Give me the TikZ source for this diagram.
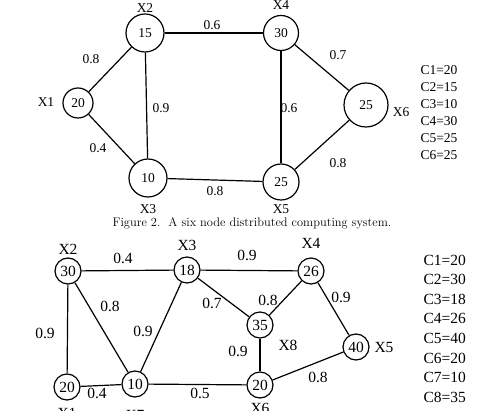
\documentclass[tikz,border=0pt]{standalone}
\usepackage{fontspec}
\newfontfamily\timesfont{Liberation Serif}
\usepackage{tikz}

\begin{document}
\begin{tikzpicture}[x=1pt,y=-1pt,line width=1.2pt,
    proc/.style={circle,draw,inner sep=0pt},
    topfont/.style={font=\timesfont\fontsize{13.5}{14}\selectfont},
    botfont/.style={font=\timesfont\fontsize{15.5}{16}\selectfont},
    bnode/.style={proc,minimum size=26pt,botfont}]
  \useasboundingbox (0,0) rectangle (477,411);

  % first system: six nodes
  \node[proc,topfont,minimum size=30pt] (a1) at (78,103) {20};
  \node[proc,topfont,minimum size=38pt] (a2) at (145,33) {15};
  \node[proc,topfont,minimum size=38pt] (a3) at (148,178) {10};
  \node[proc,topfont,minimum size=35pt] (a4) at (281,33) {30};
  \node[proc,topfont,minimum size=36pt] (a5) at (281,182) {25};
  \node[proc,topfont,minimum size=44pt] (a6) at (366,105) {25};

  \node[topfont] (la1) at (46,102) {X1};
  \node[topfont] (la2) at (145,8) {X2};
  \node[topfont] (la3) at (148,209) {X3};
  \node[topfont] (la4) at (281,5) {X4};
  \node[topfont] (la5) at (281,209) {X5};
  \node[topfont] (la6) at (401,112) {X6};

  \path (a1) edge (a2)
        (a1) edge (a3)
        (a2) edge (a3)
        (a2) edge (a4)
        (a3) edge (a5)
        (a4) edge (a5)
        (a4) edge (a6)
        (a5) edge (a6);

  \node[topfont] (wa12) at (91,59) {0.8};
  \node[topfont] (wa13) at (98,148) {0.4};
  \node[topfont] (wa23) at (161,108) {0.9};
  \node[topfont] (wa24) at (212,25) {0.6};
  \node[topfont] (wa35) at (215,191) {0.8};
  \node[topfont] (wa45) at (289,108) {0.6};
  \node[topfont] (wa46) at (338,55) {0.7};
  \node[topfont] (wa56) at (338,163) {0.8};

  \foreach \i/\c in {1/20,2/15,3/10,4/30,5/25,6/25}
    \node[topfont,anchor=west,inner sep=0pt] (ca\i) at (420,53+17*\i) {C\i=\c};

  \node[font=\fontsize{12.4}{14}\selectfont] (cap) at (252,223)
    {Figure 2.\ \ A six node distributed computing system.};

  % second system: eight nodes
  \node[bnode] (b1) at (67,387) {20};
  \node[bnode] (b2) at (68,271) {30};
  \node[bnode] (b3) at (187,270) {18};
  \node[bnode] (b4) at (311,271) {26};
  \node[bnode] (b5) at (356,347) {40};
  \node[bnode] (b6) at (260,385) {20};
  \node[bnode] (b7) at (135,384) {10};
  \node[bnode] (b8) at (260,325) {35};

  \node[botfont] (lb1) at (67,413) {X1};
  \node[botfont] (lb2) at (68,249) {X2};
  \node[botfont] (lb3) at (187,245) {X3};
  \node[botfont] (lb4) at (311,243) {X4};
  \node[botfont] (lb5) at (384,348) {X5};
  \node[botfont] (lb6) at (260,408) {X6};
  \node[botfont] (lb7) at (135,415) {X7};
  \node[botfont] (lb8) at (288,345) {X8};

  \path (b2) edge (b3)
        (b2) edge (b1)
        (b2) edge (b7)
        (b1) edge (b7)
        (b7) edge (b3)
        (b7) edge (b6)
        (b3) edge (b4)
        (b3) edge (b8)
        (b8) edge (b4)
        (b8) edge (b6)
        (b4) edge (b5)
        (b6) edge (b5);

  \node[botfont] (wb23) at (123,258) {0.4};
  \node[botfont] (wb27) at (110,306) {0.8};
  \node[botfont] (wb21) at (45,333) {0.9};
  \node[botfont] (wb73) at (143,331) {0.9};
  \node[botfont] (wb17) at (97,393) {0.4};
  \node[botfont] (wb76) at (200,393) {0.5};
  \node[botfont] (wb34) at (247,255) {0.9};
  \node[botfont] (wb38) at (212,303) {0.7};
  \node[botfont] (wb48) at (268,300) {0.8};
  \node[botfont] (wb45) at (341,297) {0.9};
  \node[botfont] (wb86) at (238,351) {0.9};
  \node[botfont] (wb65) at (318,377) {0.8};

  \foreach \i/\c in {1/20,2/30,3/18,4/26,5/40,6/20,7/10,8/35}
    \node[botfont,anchor=west,inner sep=0pt] (cb\i) at (423,240.4+19.6*\i) {C\i=\c};
\end{tikzpicture}
\end{document}
